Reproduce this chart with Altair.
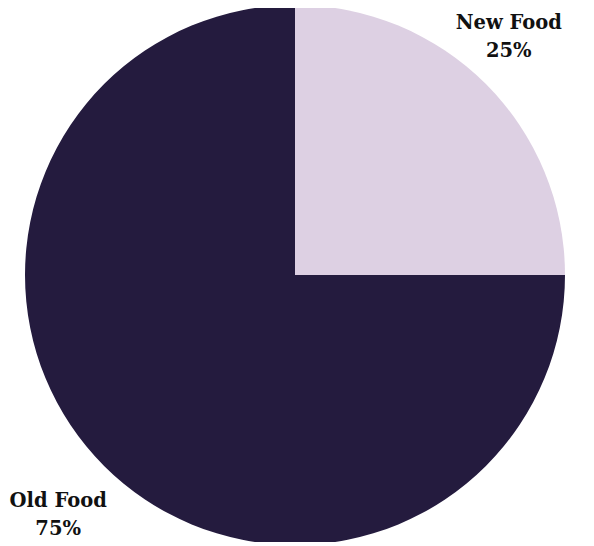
import altair as alt
import pandas as pd

categories = ["New Food", "Old Food"]
shares = [25, 75]
labels = ["New Food\n25%", "Old Food\n75%"]
colors = ["#ddd0e3", "#241b3e"]

df = pd.DataFrame({"category": categories, "share": shares, "label": labels})

base = alt.Chart(df).encode(
    theta=alt.Theta("share:Q", stack=True),
    order=alt.Order("category:N", sort="ascending"),
)

pie = base.mark_arc(outerRadius=270).encode(
    color=alt.Color("category:N", scale=alt.Scale(domain=categories, range=colors), legend=None)
)

text_style = dict(
    radius=325,
    font="DejaVu Serif",
    fontWeight="bold",
    fontSize=19.5,
    lineBreak="\n",
    lineHeight=28,
    color="#111111",
    align="center",
    baseline="middle",
)

text_new = base.mark_text(dx=-16, dy=-22, **text_style).encode(
    text=alt.condition(alt.datum.category == "New Food", "label:N", alt.value(""))
)
text_old = base.mark_text(dx=-7, dy=-4, **text_style).encode(
    text=alt.condition(alt.datum.category == "Old Food", "label:N", alt.value(""))
)

chart = (pie + text_new + text_old).properties(
    width=574, height=534, padding=0,
    autosize=alt.AutoSizeParams(type="none"),
).configure_view(stroke=None)

chart.save("out.html", embed_options={"renderer": "svg", "actions": False})
